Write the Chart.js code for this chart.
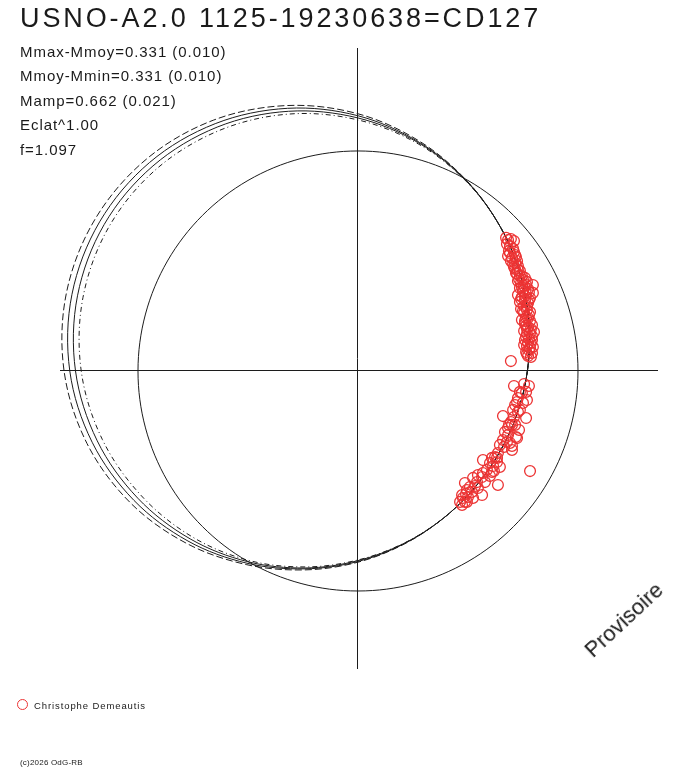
<!DOCTYPE html>
<html>
<head>
<meta charset="utf-8">
<title>USNO-A2.0 1125-19230638=CD127</title>
<script src="https://cdn.jsdelivr.net/npm/chart.js@4.4.1/dist/chart.umd.min.js"></script>
<style>
  html, body { margin: 0; padding: 0; background: #fff; }
  #wrap {
    position: relative; width: 688px; height: 768px; overflow: hidden;
    font-family: "Liberation Sans", Arial, sans-serif; color: #1a1a1a;
  }
  #polar { position: absolute; left: 0; top: 0; }
  .txt { position: absolute; white-space: nowrap; line-height: 1; }
  #title { left: 20px; top: 5px; font-size: 27px; letter-spacing: 2.9px; }
  .stat { left: 20px; font-size: 15px; letter-spacing: 0.95px; }
  #legend { left: 17px; top: 699px; font-size: 9.5px; letter-spacing: 0.9px; }
  #legend .mark {
    display: inline-block; width: 9px; height: 9px; border: 1px solid #ec3434;
    border-radius: 50%; vertical-align: -1px; margin-right: 6px;
  }
  #copy { left: 20px; top: 759px; font-size: 8px; letter-spacing: 0.2px; }
  #stamp {
    left: 624px; top: 620px; font-size: 22px;
    transform: translate(-50%, -50%) rotate(-43deg);
  }
</style>
</head>
<body>
<div id="wrap">
  <canvas id="polar" width="688" height="768"></canvas>
  <div class="txt" id="title">USNO-A2.0 1125-19230638=CD127</div>
  <div class="txt stat" style="top:44px">Mmax-Mmoy=0.331 (0.010)</div>
  <div class="txt stat" style="top:68px">Mmoy-Mmin=0.331 (0.010)</div>
  <div class="txt stat" style="top:93px">Mamp=0.662 (0.021)</div>
  <div class="txt stat" style="top:117px">Eclat^1.00</div>
  <div class="txt stat" style="top:142px">f=1.097</div>
  <div class="txt" id="legend"><span class="mark"></span>Christophe Demeautis</div>
  <div class="txt" id="copy">(c)2026 OdG-RB</div>
  <div class="txt" id="stamp">Provisoire</div>
</div>

<script>
// radius unit = the Mmoy reference circle
const refRadius = 1;

// phase angles (deg, 0 = right, counter-clockwise) where the fit curves were read
const curveAngles = [0, 15, 30, 45, 60, 75, 90, 105, 120, 135, 150, 165,
                     180, 195, 210, 225, 240, 255, 270, 285, 300, 315, 330, 345];

// four fitted light curves (radius at each angle)
const fitOuterDashed = [0.770, 0.805, 0.855, 0.919, 0.995, 1.081, 1.169, 1.249, 1.316, 1.361, 1.380, 1.372,
                        1.336, 1.275, 1.196, 1.106, 1.016, 0.936, 0.869, 0.814, 0.774, 0.750, 0.742, 0.749];
const fitSolidA      = [0.770, 0.805, 0.855, 0.919, 0.994, 1.076, 1.160, 1.236, 1.298, 1.340, 1.356, 1.346,
                        1.310, 1.251, 1.176, 1.093, 1.009, 0.931, 0.866, 0.813, 0.774, 0.750, 0.742, 0.749];
const fitSolidB      = [0.770, 0.805, 0.855, 0.919, 0.992, 1.072, 1.150, 1.222, 1.280, 1.318, 1.332, 1.320,
                        1.284, 1.227, 1.156, 1.079, 1.001, 0.927, 0.862, 0.811, 0.774, 0.750, 0.742, 0.749];
const fitInnerDashed = [0.770, 0.805, 0.855, 0.919, 0.991, 1.067, 1.141, 1.209, 1.262, 1.297, 1.308, 1.294,
                        1.258, 1.203, 1.136, 1.066, 0.994, 0.922, 0.859, 0.810, 0.774, 0.750, 0.742, 0.749];

// observations (Christophe Demeautis), cartesian in radius units
const obsX = [0.682, 0.709, 0.691, 0.705, 0.691, 0.714, 0.700, 0.723, 0.705, 0.727, 0.714, 0.736,
              0.723, 0.745, 0.732, 0.759, 0.741, 0.768, 0.755, 0.736, 0.773, 0.750, 0.764, 0.795,
              0.745, 0.759, 0.736, 0.773, 0.755, 0.741, 0.768, 0.755, 0.777, 0.764, 0.745, 0.782,
              0.759, 0.773, 0.786, 0.755, 0.768, 0.791, 0.777, 0.759, 0.786, 0.768, 0.795, 0.777,
              0.764, 0.791, 0.773, 0.695, 0.782, 0.727, 0.718, 0.795, 0.782, 0.800,
              0.673, 0.695, 0.677, 0.686, 0.709, 0.682, 0.695, 0.714, 0.709, 0.727, 0.718, 0.736,
              0.727, 0.750, 0.764, 0.745, 0.777, 0.759, 0.741, 0.768, 0.750, 0.773, 0.759, 0.791,
              0.768, 0.782, 0.764, 0.791, 0.773, 0.782, 0.768, 0.786, 0.755, 0.764, 0.777,
              0.709, 0.777, 0.764, 0.745, 0.723, 0.750, 0.659, 0.764, 0.709, 0.695, 0.714, 0.682,
              0.668, 0.723, 0.682, 0.700, 0.645, 0.677, 0.636, 0.623, 0.609, 0.568, 0.632, 0.645,
              0.600, 0.782, 0.586, 0.568, 0.545, 0.564, 0.523, 0.541, 0.636, 0.486, 0.509, 0.495,
              0.518, 0.564, 0.473, 0.477, 0.464, 0.495, 0.473, 0.736, 0.705, 0.732, 0.691, 0.664,
              0.618, 0.491, 0.768, 0.755,
              0.727, 0.714, 0.727, 0.700, 0.718, 0.700, 0.632, 0.609, 0.577, 0.523, 0.500, 0.486,
              0.545, 0.600, 0.659, 0.686, 0.736, 0.614, 0.532];
const obsY = [0.595, 0.591, 0.568, 0.555, 0.536, 0.527, 0.514, 0.500, 0.486, 0.477, 0.464, 0.455,
              0.441, 0.432, 0.418, 0.423, 0.400, 0.405, 0.386, 0.377, 0.373, 0.364, 0.350, 0.355,
              0.336, 0.323, 0.314, 0.309, 0.295, 0.282, 0.277, 0.264, 0.255, 0.241, 0.232, 0.227,
              0.214, 0.200, 0.191, 0.182, 0.168, 0.159, 0.145, 0.141, 0.127, 0.114, 0.109, 0.095,
              0.086, 0.082, 0.068, 0.045, 0.268, 0.345, 0.518, 0.391, 0.332, 0.177,
              0.605, 0.600, 0.577, 0.545, 0.541, 0.523, 0.500, 0.491, 0.473, 0.459, 0.445, 0.432,
              0.409, 0.414, 0.391, 0.382, 0.359, 0.341, 0.327, 0.295, 0.273, 0.241, 0.227, 0.209,
              0.191, 0.173, 0.155, 0.141, 0.127, 0.105, 0.077, 0.064, 0.118, 0.205, 0.323,
              -0.068, -0.068, -0.095, -0.100, -0.141, -0.145, -0.205, -0.214, -0.209, -0.232, -0.245, -0.259,
              -0.277, -0.305, -0.291, -0.359, -0.336, -0.323, -0.373, -0.391, -0.395, -0.405, -0.414, -0.436,
              -0.418, -0.455, -0.450, -0.464, -0.473, -0.482, -0.486, -0.505, -0.518, -0.509, -0.527, -0.541,
              -0.550, -0.564, -0.564, -0.577, -0.595, -0.595, -0.609, -0.177, -0.177, -0.268, -0.327, -0.345,
              -0.455, -0.559, -0.132, -0.059,
              -0.123, -0.155, -0.186, -0.245, -0.300, -0.341, -0.395, -0.459, -0.505, -0.577, -0.573, -0.595,
              -0.532, -0.477, -0.314, -0.245, -0.095, -0.432, -0.523];

// visible extent of the crossing axes
const axisXMin = -1.3545, axisXMax = 1.3591;
const axisYMin = -1.350,  axisYMax = 1.468;

const INK = "#1c1c1c";
const OBS_RED = "#ec3434";

// closed polar curve; one extra point on each side keeps the spline smooth
// where it closes, those two extra segments are left invisible
function polarLoop(radii) {
    const pts = curveAngles.map((deg, i) => {
        const a = deg * Math.PI / 180;
        return { x: radii[i] * Math.cos(a), y: radii[i] * Math.sin(a) };
    });
    return [pts[pts.length - 1], ...pts, pts[0], pts[1]];
}

function curveSet(label, radii, dash) {
    const data = polarLoop(radii);
    const last = data.length - 1;
    return {
        label: label,
        data: data,
        showLine: true,
        borderColor: INK,
        borderWidth: 1,
        borderDash: dash,
        tension: 0.34,
        pointRadius: 0,
        fill: false,
        segment: {
            borderColor: ctx =>
                (ctx.p0DataIndex === 0 || ctx.p1DataIndex === last) ? "rgba(0,0,0,0)" : undefined
        }
    };
}

const observations = obsX.map((x, i) => ({ x: x, y: obsY[i] }));

new Chart(document.getElementById("polar"), {
    type: "scatter",
    data: {
        datasets: [
            {
                label: "Christophe Demeautis",
                data: observations,
                pointStyle: "circle",
                pointRadius: 5.4,
                pointBorderWidth: 1.3,
                pointBorderColor: OBS_RED,
                pointBackgroundColor: "rgba(0,0,0,0)",
                showLine: false
            },
            curveSet("fit +", fitOuterDashed, [7, 3]),
            curveSet("fit a", fitSolidA, []),
            curveSet("fit b", fitSolidB, []),
            curveSet("fit -", fitInnerDashed, [5, 3, 1, 3]),
            curveSet("Mmoy", curveAngles.map(() => refRadius), [])
        ]
    },
    options: {
        responsive: false,
        animation: false,
        devicePixelRatio: 1,
        layout: { padding: { left: 60, top: 48, right: 31, bottom: 100 } },
        plugins: {
            legend: { display: false },
            tooltip: { enabled: false }
        },
        events: [],
        scales: {
            x: {
                type: "linear",
                min: axisXMin,
                max: axisXMax,
                position: { y: 0 },
                grid: { display: false, drawTicks: false },
                ticks: { display: false },
                border: { display: true, color: INK, width: 1 }
            },
            y: {
                type: "linear",
                min: axisYMin,
                max: axisYMax,
                position: { x: 0 },
                grid: { display: false, drawTicks: false },
                ticks: { display: false },
                border: { display: true, color: INK, width: 1 }
            }
        }
    }
});
</script>
</body>
</html>
